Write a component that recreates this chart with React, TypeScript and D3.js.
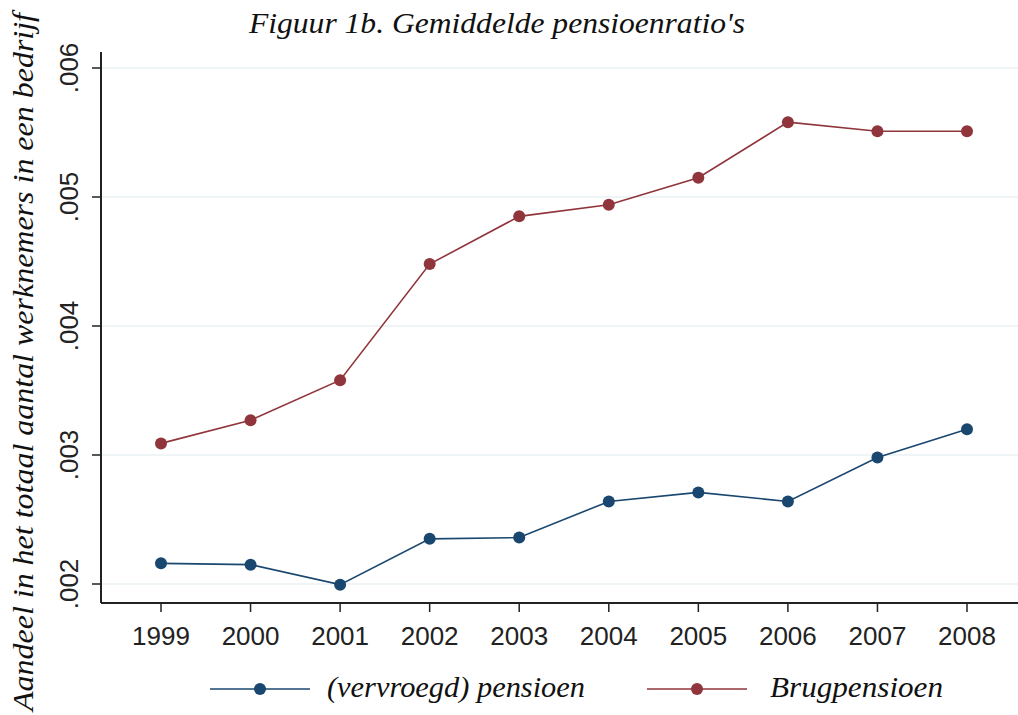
import React from "react";
import * as d3 from "d3";

const years = [1999, 2000, 2001, 2002, 2003, 2004, 2005, 2006, 2007, 2008];
const vervroegd = [0.00216, 0.00215, 0.001995, 0.00235, 0.00236, 0.00264, 0.00271, 0.00264, 0.00298, 0.0032];
const brug = [0.00309, 0.00327, 0.00358, 0.00448, 0.00485, 0.00494, 0.00515, 0.00558, 0.00551, 0.00551];
const yTicks = [0.002, 0.003, 0.004, 0.005, 0.006];

const W = 1018;
const H = 715;
const serif = "'Liberation Serif', 'DejaVu Serif', serif";
const sans = "'Liberation Sans', Arial, sans-serif";
const blue = "#1a476f";
const red = "#90353b";

export default function App() {
  const x = d3.scaleLinear().domain([1999, 2008]).range([161, 967]);
  const y = d3.scaleLinear().domain([0.002, 0.006]).range([584, 68]);
  const left = 101;
  const bottom = 603;
  const top = 52;

  const line = d3
    .line<number>()
    .x((_, i) => x(years[i]))
    .y((d) => y(d));

  const series = [
    { name: "(vervroegd) pensioen", values: vervroegd, color: blue },
    { name: "Brugpensioen", values: brug, color: red },
  ];

  return (
    <svg
      width={W}
      height={H}
      style={{ position: "absolute", left: 0, top: 0, background: "#fff" }}
    >
      <text
        x={249}
        y={33}
        textLength={496}
        lengthAdjust="spacingAndGlyphs"
        fontFamily={serif}
        fontStyle="italic"
        fontSize={30}
        fill="#111"
      >
        Figuur 1b. Gemiddelde pensioenratio's
      </text>

      {/* grid */}
      {yTicks.map((t) => (
        <line key={t} x1={left} x2={W} y1={y(t)} y2={y(t)} stroke="#eaf2f3" strokeWidth={1.5} />
      ))}

      {/* axes */}
      <line x1={left} x2={left} y1={top} y2={bottom} stroke="#222" strokeWidth={2} />
      <line x1={left} x2={W} y1={bottom} y2={bottom} stroke="#222" strokeWidth={2} />

      {yTicks.map((t) => (
        <g key={t}>
          <line x1={left - 9} x2={left} y1={y(t)} y2={y(t)} stroke="#222" strokeWidth={1.5} />
          <text
            transform={`translate(78,${y(t)}) rotate(-90)`}
            textAnchor="middle"
            fontFamily={sans}
            fontSize={26}
            fill="#222"
          >
            {d3.format(".3f")(t).replace(/^0/, "")}
          </text>
        </g>
      ))}

      {years.map((yr) => (
        <g key={yr}>
          <line x1={x(yr)} x2={x(yr)} y1={bottom} y2={bottom + 9} stroke="#222" strokeWidth={1.5} />
          <text x={x(yr)} y={645} textAnchor="middle" fontFamily={sans} fontSize={26} fill="#222">
            {yr}
          </text>
        </g>
      ))}

      <text
        transform={`translate(33,362) rotate(-90)`}
        textAnchor="middle"
        textLength={698}
        lengthAdjust="spacingAndGlyphs"
        fontFamily={serif}
        fontStyle="italic"
        fontSize={30}
        fill="#111"
      >
        Aandeel in het totaal aantal werknemers in een bedrijf
      </text>

      {series.map((s) => (
        <g key={s.name}>
          <path d={line(s.values) || ""} fill="none" stroke={s.color} strokeWidth={1.6} />
          {s.values.map((v, i) => (
            <circle key={i} cx={x(years[i])} cy={y(v)} r={6} fill={s.color} />
          ))}
        </g>
      ))}

      {/* legend */}
      {[
        { ...series[0], x0: 210, tx: 327, tl: 258 },
        { ...series[1], x0: 647, tx: 770, tl: 173 },
      ].map((s) => (
        <g key={s.name}>
          <line x1={s.x0} x2={s.x0 + 100} y1={689} y2={689} stroke={s.color} strokeWidth={1.6} />
          <circle cx={s.x0 + 50} cy={689} r={6} fill={s.color} />
          <text
            x={s.tx}
            y={697}
            textLength={s.tl}
            lengthAdjust="spacingAndGlyphs"
            fontFamily={serif}
            fontStyle="italic"
            fontSize={30}
            fill="#111"
          >
            {s.name}
          </text>
        </g>
      ))}
    </svg>
  );
}
